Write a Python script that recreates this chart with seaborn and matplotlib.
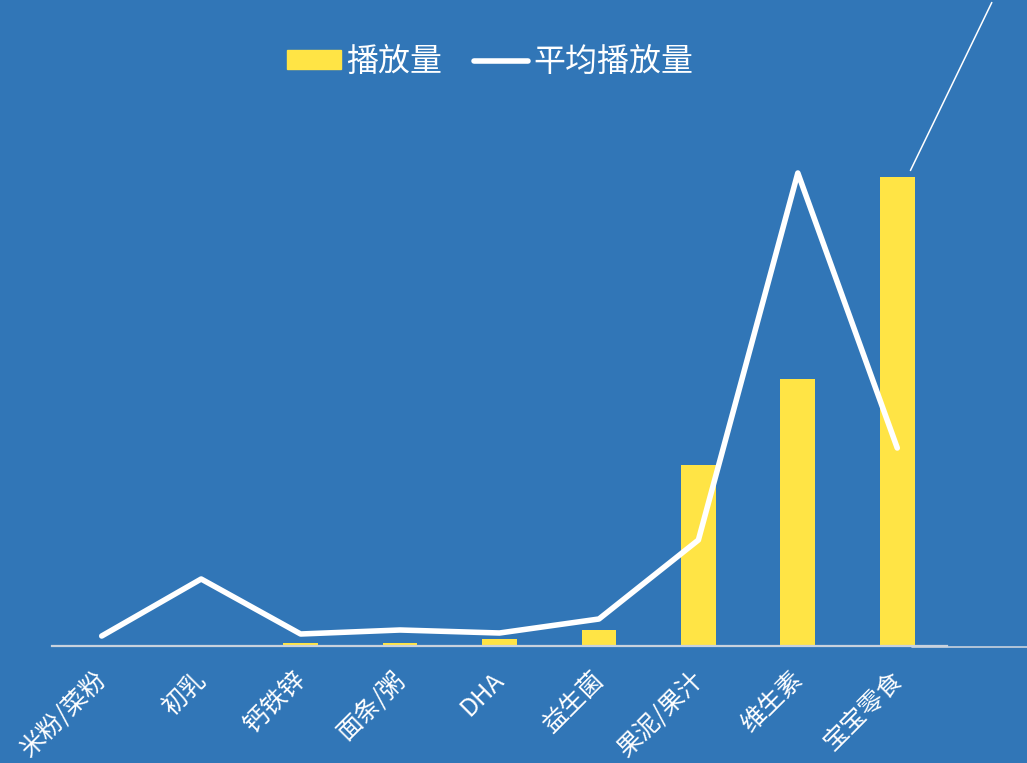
import matplotlib
matplotlib.use("Agg")
import matplotlib.pyplot as plt
import matplotlib.transforms as mtransforms
from matplotlib.lines import Line2D
import seaborn as sns
import pandas as pd

categories = ["米粉/菜粉", "初乳", "钙铁锌", "面条/粥", "DHA", "益生菌", "果泥/果汁", "维生素", "宝宝零食"]
plays = [0, 0, 3, 3, 7, 16, 181, 267, 469]
avg_plays = [10, 67, 12, 16, 13, 27, 106, 473, 198]
legend_labels = ["播放量", "平均播放量"]

BG = "#3176B7"
YELLOW = "#FFE445"
AXIS = "#C8D2DE"

sns.set_theme(style="white")
plt.rcParams["font.family"] = ["Noto Sans CJK SC", "DejaVu Sans"]

df = pd.DataFrame({"品类": categories, "播放量": plays, "平均播放量": avg_plays})

fig = plt.figure(figsize=(10.27, 7.63), dpi=100, facecolor=BG)
ax = fig.add_axes([52 / 1027, 1 - 646 / 763, 895 / 1027, 546 / 763])
ax.set_facecolor(BG)

sns.barplot(data=df, x="品类", y="播放量", color=YELLOW, width=0.35,
            saturation=1, ax=ax, edgecolor="none")
sns.pointplot(data=df, x="品类", y="平均播放量", color="white", markers="",
              linewidth=4, errorbar=None, ax=ax)

ax.set_ylim(0, 546)
ax.set_xlim(-0.5, len(categories) - 0.5)
ax.set_xlabel("")
ax.set_ylabel("")
ax.set_yticks([])
for s in ["top", "left", "right"]:
    ax.spines[s].set_visible(False)
ax.spines["bottom"].set_color(AXIS)
ax.spines["bottom"].set_linewidth(1.6)
ax.tick_params(axis="x", length=0, pad=15)
shift = mtransforms.ScaledTranslation(-8 / 100, 0, fig.dpi_scale_trans)
for lab in ax.get_xticklabels():
    lab.set_rotation(45)
    lab.set_ha("right")
    lab.set_rotation_mode("anchor")
    lab.set_color("white")
    lab.set_fontsize(18)
    lab.set_fontweight("light")
    lab.set_transform(lab.get_transform() + shift)

# callout from the top bar to the upper-right corner
ax.annotate("", xy=(len(categories) - 1 + 0.12, plays[-1] + 4), xycoords="data",
            xytext=(993 / 1027, 1.0), textcoords="figure fraction",
            arrowprops=dict(arrowstyle="-", color="white", lw=1.1))
fig.add_artist(Line2D([912 / 1027, 1.0], [1 - 647 / 763, 1 - 647 / 763],
                      transform=fig.transFigure, color=AXIS, lw=1.2))

handles = [plt.Rectangle((0, 0), 1, 1, color=YELLOW),
           Line2D([], [], color="white", lw=4, solid_capstyle="round")]
leg = fig.legend(handles, legend_labels, loc="center", bbox_to_anchor=(0.477, 0.919),
                 ncol=2, frameon=False, fontsize=23, handlelength=1.7,
                 handleheight=0.5, handletextpad=0.15, columnspacing=1.0)
for t in leg.get_texts():
    t.set_color("white")
    t.set_fontweight("light")

fig.savefig("out.png", dpi=100, facecolor=BG)
